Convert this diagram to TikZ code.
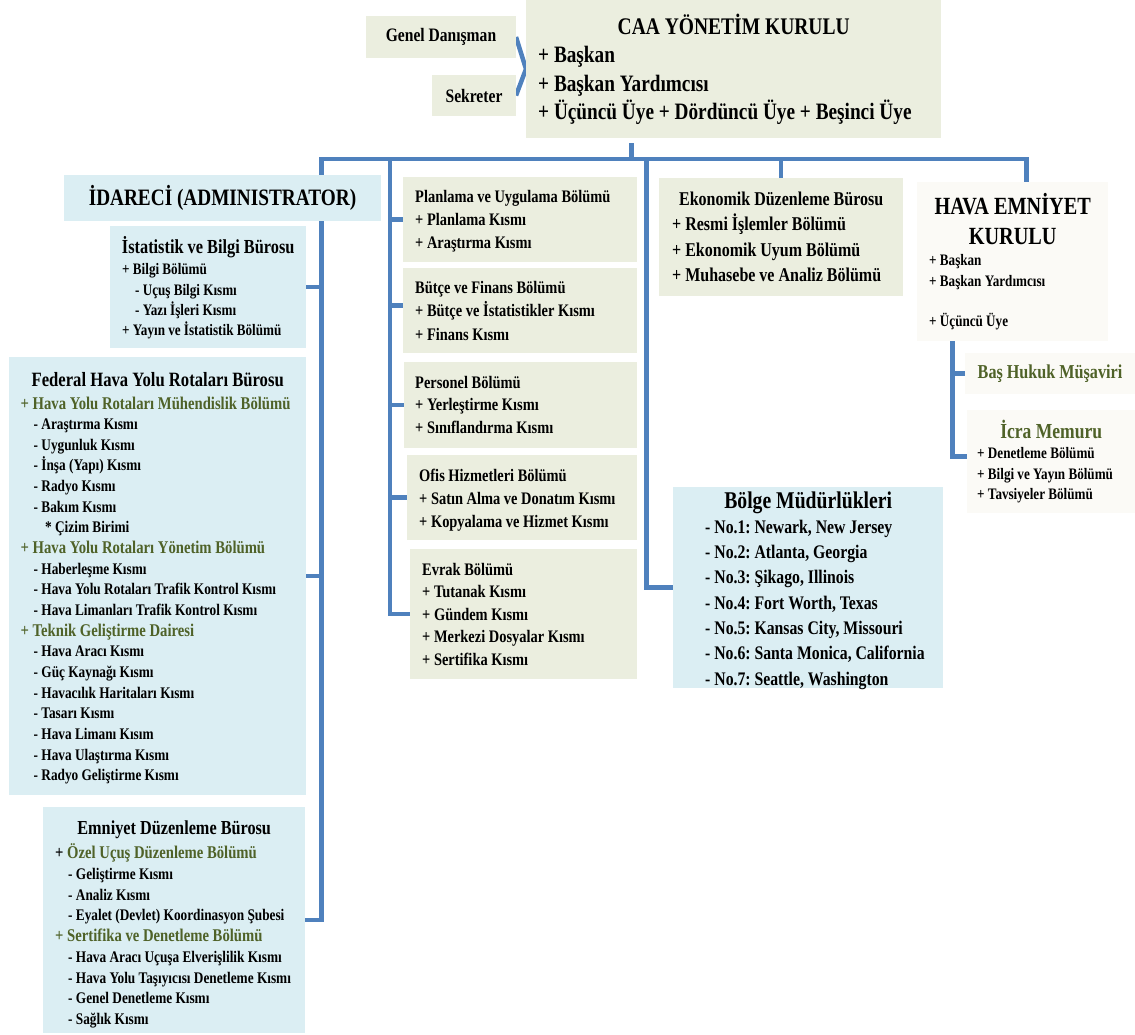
\documentclass[tikz,border=0pt]{standalone}
\usepackage{fontspec}
\setmainfont{Liberation Serif}[FakeStretch=0.82]
\usetikzlibrary{positioning,backgrounds}

\definecolor{maviz}{HTML}{DBEEF3}
\definecolor{yesilz}{HTML}{EBEEDF}
\definecolor{kremz}{HTML}{FBFAF6}
\definecolor{hatrenk}{HTML}{4F81BD}
\definecolor{zeytin}{HTML}{4F6228}

\newcommand{\boy}[2]{\fontsize{#1bp}{#2bp}\selectfont\bfseries\frenchspacing}
\newcommand{\bosluk}{\spaceskip=0pt\xspaceskip=0pt\relax\frenchspacing}
\newcommand{\baslik}[3]{{\fontsize{#1bp}{#2bp}\selectfont\bosluk\makebox[\hsize][c]{#3}\par}}
\newcommand{\kalem}[1]{\mbox{\bosluk #1}\par}
\newcommand{\altk}[2][13]{\hspace*{#1bp}\mbox{\bosluk #2}\par}
\newcommand{\zey}[2]{\textcolor{zeytin}{\fontsize{#1bp}{#1bp}\selectfont #2}}

\tikzset{
    kutu/.style={anchor=north west, inner sep=0pt, outer sep=0pt},
    mavi/.style={kutu, fill=maviz},
    yesil/.style={kutu, fill=yesilz},
    krem/.style={kutu, fill=kremz},
    yazi/.style={anchor=base west, inner sep=0pt, align=left},
    hat/.style={draw=hatrenk, line width=4.5bp}
}

\begin{document}
\begin{tikzpicture}[x=1bp, y=-1bp]
    \useasboundingbox (0,0) rectangle (1135,1035);

    % Совет CAA
    \node[yesil, minimum width=415bp, minimum height=138bp] (caa) at (526,0) {};
    \node[yazi, text width=391bp, font=\boy{23.5}{28.5}] (caa-y) at (538,34) {
        \baslik{23.8}{28.5}{CAA YÖNETİM KURULU}
        \kalem{+ Başkan}
        \kalem{+ Başkan Yardımcısı}
        \kalem{+ Üçüncü Üye + Dördüncü Üye + Beşinci Üye}};
    \node[yesil, minimum width=150bp, minimum height=42bp, font=\boy{19}{22}] (genel) at (366,16) {Genel Danışman};
    \node[yesil, minimum width=84bp, minimum height=41bp, font=\boy{19}{22}] (sekreter) at (432,75) {Sekreter};

    % Левая колонка
    \node[mavi, minimum width=317bp, minimum height=46bp, font=\boy{23.5}{26}] (idareci) at (64,175) {İDARECİ (ADMINISTRATOR)};

    \node[mavi, minimum width=196bp, minimum height=122bp] (istat) at (110,226) {};
    \node[yazi, text width=172bp, font=\boy{16}{20.3}] (istat-y) at (122,253.5) {
        \baslik{19.9}{20}{İstatistik ve Bilgi Bürosu}\vspace{1bp}
        \kalem{+ Bilgi Bölümü}
        \altk{- Uçuş Bilgi Kısmı}
        \altk{- Yazı İşleri Kısmı}
        \kalem{+ Yayın ve İstatistik Bölümü}};

    \node[mavi, minimum width=297bp, minimum height=438bp] (federal) at (9,357) {};
    \node[yazi, text width=274bp, font=\boy{16.2}{20.65}] (federal-y) at (20.5,386.5) {
        \baslik{20.3}{20}{Federal Hava Yolu Rotaları Bürosu}\vspace{1.85bp}
        \kalem{\zey{17.9}{+ Hava Yolu Rotaları Mühendislik Bölümü}}
        \altk{- Araştırma Kısmı}
        \altk{- Uygunluk Kısmı}
        \altk{- İnşa (Yapı) Kısmı}
        \altk{- Radyo Kısmı}
        \altk{- Bakım Kısmı}
        \altk[24.5]{* Çizim Birimi}
        \kalem{\zey{17.9}{+ Hava Yolu Rotaları Yönetim Bölümü}}
        \altk{- Haberleşme Kısmı}
        \altk{- Hava Yolu Rotaları Trafik Kontrol Kısmı}
        \altk{- Hava Limanları Trafik Kontrol Kısmı}
        \kalem{\zey{17.9}{+ Teknik Geliştirme Dairesi}}
        \altk{- Hava Aracı Kısmı}
        \altk{- Güç Kaynağı Kısmı}
        \altk{- Havacılık Haritaları Kısmı}
        \altk{- Tasarı Kısmı}
        \altk{- Hava Limanı Kısım}
        \altk{- Hava Ulaştırma Kısmı}
        \altk{- Radyo Geliştirme Kısmı}};

    \node[mavi, minimum width=262bp, minimum height=226bp] (emniyet) at (43,807) {};
    \node[yazi, text width=238bp, font=\boy{16.2}{20.75}] (emniyet-y) at (55,834.5) {
        \baslik{19.8}{20}{Emniyet Düzenleme Bürosu}\vspace{3.25bp}
        \kalem{\fontsize{17.9bp}{17.9bp}\selectfont + \zey{17.9}{Özel Uçuş Düzenleme Bölümü}}
        \altk{- Geliştirme Kısmı}
        \altk{- Analiz Kısmı}
        \altk{- Eyalet (Devlet) Koordinasyon Şubesi}
        \kalem{\zey{17.9}{+ Sertifika ve Denetleme Bölümü}}
        \altk{- Hava Aracı Uçuşa Elverişlilik Kısmı}
        \altk{- Hava Yolu Taşıyıcısı Denetleme Kısmı}
        \altk{- Genel Denetleme Kısmı}
        \altk{- Sağlık Kısmı}};

    % Средняя колонка
    \node[yesil, minimum width=234bp, minimum height=85bp] (plan) at (403,177) {};
    \node[yazi, text width=215bp, font=\boy{17.6}{23}] (plan-y) at (415,202.5) {
        \kalem{Planlama ve Uygulama Bölümü}
        \kalem{+ Planlama Kısmı}
        \kalem{+ Araştırma Kısmı}};

    \node[yesil, minimum width=234bp, minimum height=85bp] (butce) at (403,268) {};
    \node[yazi, text width=215bp, font=\boy{17.6}{23.5}] (butce-y) at (415,293) {
        \kalem{Bütçe ve Finans Bölümü}
        \kalem{+ Bütçe ve İstatistikler Kısmı}
        \kalem{+ Finans Kısmı}};

    \node[yesil, minimum width=233bp, minimum height=86bp] (personel) at (404,362) {};
    \node[yazi, text width=215bp, font=\boy{17.6}{22.5}] (personel-y) at (415,388) {
        \kalem{Personel Bölümü}
        \kalem{+ Yerleştirme Kısmı}
        \kalem{+ Sınıflandırma Kısmı}};

    \node[yesil, minimum width=230bp, minimum height=85bp] (ofis) at (407,455) {};
    \node[yazi, text width=212bp, font=\boy{17.6}{23}] (ofis-y) at (419,481) {
        \kalem{Ofis Hizmetleri Bölümü}
        \kalem{+ Satın Alma ve Donatım Kısmı}
        \kalem{+ Kopyalama ve Hizmet Kısmı}};

    \node[yesil, minimum width=227bp, minimum height=130bp] (evrak) at (410,549) {};
    \node[yazi, text width=210bp, font=\boy{17.6}{22.6}] (evrak-y) at (422,575) {
        \kalem{Evrak Bölümü}
        \kalem{+ Tutanak Kısmı}
        \kalem{+ Gündem Kısmı}
        \kalem{+ Merkezi Dosyalar Kısmı}
        \kalem{+ Sertifika Kısmı}};

    % Правая часть
    \node[yesil, minimum width=244bp, minimum height=118bp] (ekon) at (659,178) {};
    \node[yazi, text width=218bp, font=\boy{19.5}{25.5}] (ekon-y) at (672,205) {
        \baslik{19.5}{25.5}{Ekonomik Düzenleme Bürosu}
        \kalem{+ Resmi İşlemler Bölümü}
        \kalem{+ Ekonomik Uyum Bölümü}
        \kalem{+ Muhasebe ve Analiz Bölümü}};

    \node[krem, minimum width=191bp, minimum height=159bp] (hek) at (917,182) {};
    \node[yazi, text width=167bp, font=\boy{16}{21}] (hek-y) at (929,214) {
        \baslik{24.7}{30}{HAVA EMNİYET}
        \baslik{24.7}{30}{KURULU}
        \kalem{+ Başkan}
        \kalem{+ Başkan Yardımcısı}\vspace{19bp}
        \kalem{+ Üçüncü Üye}};

    \node[krem, minimum width=170bp, minimum height=41bp, font=\boy{19.7}{22}, text=zeytin] (bashukuk) at (965,353) {Baş Hukuk Müşaviri};

    \node[krem, minimum width=168bp, minimum height=103bp] (icra) at (967,410) {};
    \node[yazi, text width=148bp, font=\boy{16}{20.5}] (icra-y) at (977,438) {
        \baslik{21.4}{20}{\zey{21.4}{İcra Memuru}}
        \kalem{+ Denetleme Bölümü}
        \kalem{+ Bilgi ve Yayın Bölümü}
        \kalem{+ Tavsiyeler Bölümü}};

    \node[mavi, minimum width=270bp, minimum height=201bp] (bolge) at (673,487) {};
    \node[yazi, text width=206bp, font=\boy{19.2}{25.3}] (bolge-y) at (705,508) {
        \baslik{24}{25}{Bölge Müdürlükleri}
        \kalem{- No.1: Newark, New Jersey}
        \kalem{- No.2: Atlanta, Georgia}
        \kalem{- No.3: Şikago, Illinois}
        \kalem{- No.4: Fort Worth, Texas}
        \kalem{- No.5: Kansas City, Missouri}
        \kalem{- No.6: Santa Monica, California}
        \kalem{- No.7: Seattle, Washington}};

    % Линии связи
    \begin{scope}[on background layer]
        \coordinate (bus-sol) at (321.5,159);
        \coordinate (bus-orta) at (390,159);
        \coordinate (bus-bolge) at (646.5,159);
        \coordinate (bus-sag) at (1026.5,159);
        \coordinate (caa-alt) at ([xshift=-102bp,yshift=-5bp]caa.south);
        \coordinate (hek-kol) at ([xshift=-60bp]hek.south);

        \draw[hat] (genel.east) -- (caa.west) -- (sekreter.east);
        \draw[hat] (caa-alt) -- (caa-alt |- bus-sol);
        \draw[hat] (emniyet.east) -| (bus-sol) -- (bus-sag) -- (bus-sag |- hek.north);
        \draw[hat] (istat.east) -- (istat.east -| bus-sol);
        \draw[hat] (federal.east) -- (federal.east -| bus-sol);
        \draw[hat] (evrak.west) -| (bus-orta);
        \foreach \k in {plan, personel, ofis}
            \draw[hat] (\k.west) -- (\k.west -| bus-orta);
        \draw[hat] ([yshift=5bp]butce.west) -- ++(-13,0);
        \draw[hat] (bolge.west) -| (bus-bolge);
        \draw[hat] (ekon.north) -- (ekon.north |- bus-sol);
        \draw[hat] (hek-kol) |- ([yshift=5bp]icra.west);
        \draw[hat] (bashukuk.west) -- (bashukuk.west -| hek-kol);
    \end{scope}
\end{tikzpicture}
\end{document}
